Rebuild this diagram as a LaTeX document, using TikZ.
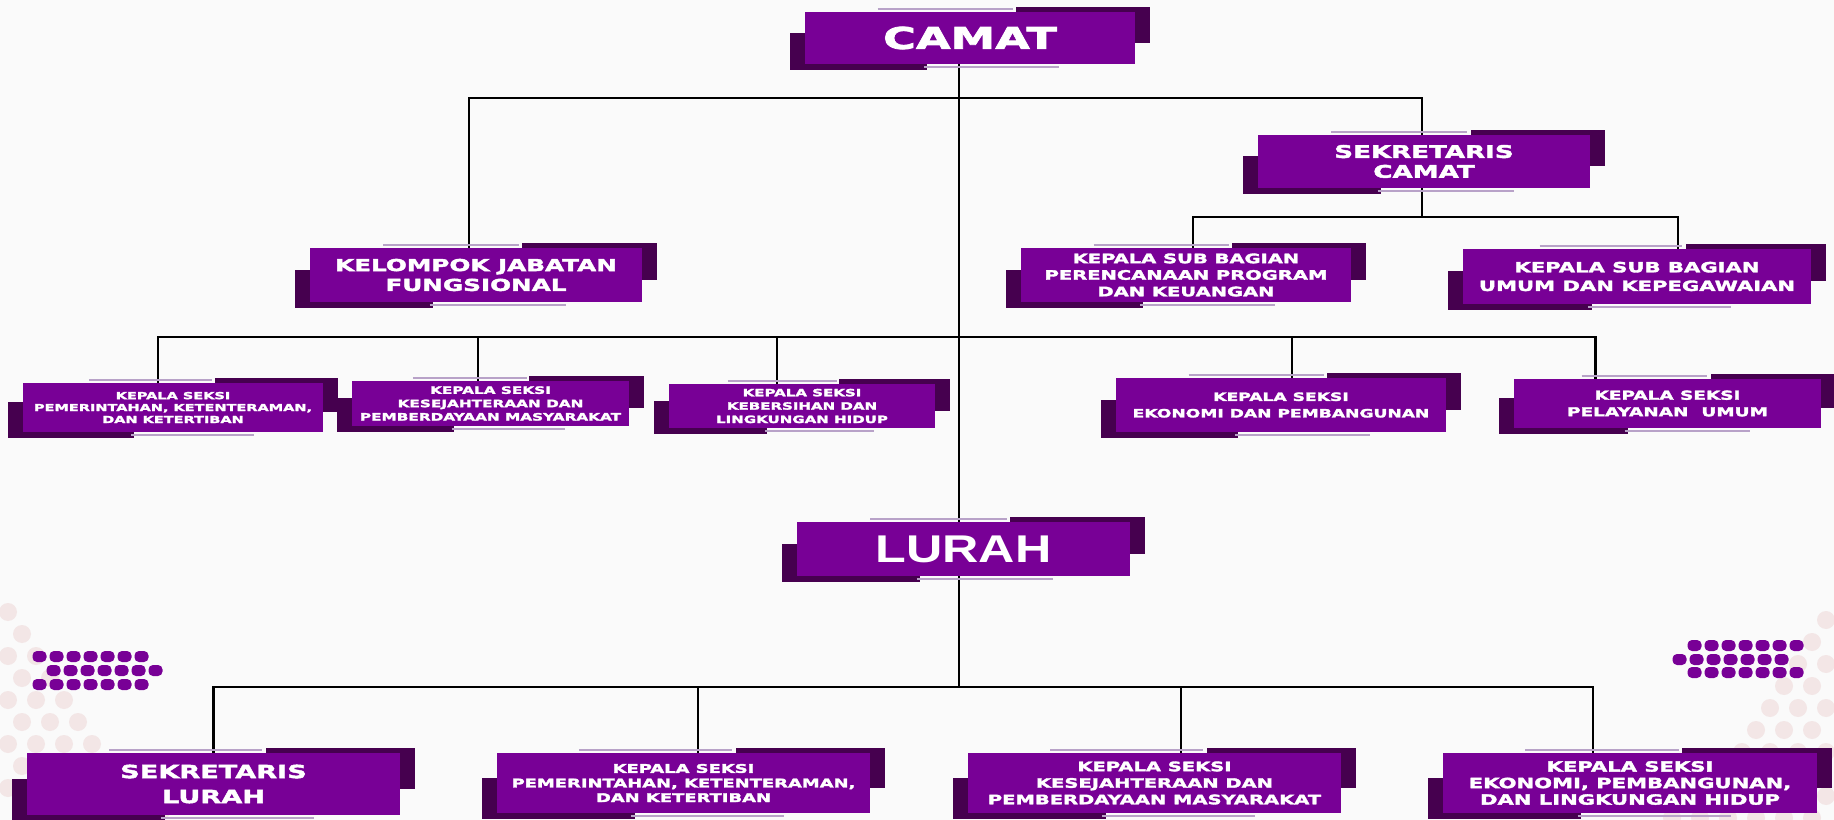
\documentclass[tikz,border=0pt]{standalone}
\usepackage{fontspec}
\newfontfamily\boxfont{DejaVu Sans}[FakeStretch=1.5, BoldFeatures={FakeBold=2.5}]
\newfontfamily\lurahfont{Liberation Sans}[FakeStretch=1.3]
\usetikzlibrary{calc,backgrounds}
\definecolor{mainp}{HTML}{780096}
\definecolor{darkp}{HTML}{46004F}
\definecolor{linep}{HTML}{B8A2C8}
\definecolor{pagebg}{HTML}{FAFAFA}
\definecolor{ghost}{HTML}{F3E6E6}
\tikzset{
  unit/.style 2 args={fill=mainp, text=white, align=center, inner sep=0pt, outer sep=0pt,
    minimum width=#1*0.2mm, minimum height=#2*0.2mm},
  txt/.style 2 args={font=\boxfont\bfseries\fontsize{#1}{#2}\selectfont},
  wire/.style={line width=1.6pt, black},
  dotbar/.style={fill=mainp, rounded corners=0.9mm},
}
\begin{document}
\begin{tikzpicture}[x=0.2mm, y=-0.2mm]
\useasboundingbox (0,0) rectangle (1834,820);
% kecamatan
\node[unit={330}{52}, txt={17}{20}] (CAMAT) at (970,38) {CAMAT};
\node[unit={332}{53}, txt={9.9}{11.3}] (SEKCAMAT) at (1424,161.5) {SEKRETARIS\\CAMAT};
\node[unit={332}{54}, txt={9.35}{11.3}] (KJF) at (476,275) {KELOMPOK JABATAN\\FUNGSIONAL};
\node[unit={330}{54}, txt={7.4}{9.4}] (PERENC) at (1186,275) {KEPALA SUB BAGIAN\\PERENCANAAN PROGRAM\\DAN KEUANGAN};
\node[unit={348}{55}, txt={8}{10.6}] (UMUM) at (1637,276.5) {KEPALA SUB BAGIAN\\UMUM DAN KEPEGAWAIAN};
\node[unit={300}{49}, txt={5.5}{6.8}] (S1) at (173,407.5) {KEPALA SEKSI\\PEMERINTAHAN, KETENTERAMAN,\\DAN KETERTIBAN};
\node[unit={277}{45}, txt={5.8}{7.6}] (S2) at (490.5,403.5) {KEPALA SEKSI\\KESEJAHTERAAN DAN\\PEMBERDAYAAN MASYARAKAT};
\node[unit={266}{44}, txt={5.7}{7.6}] (S3) at (802,406) {KEPALA SEKSI\\KEBERSIHAN DAN\\LINGKUNGAN HIDUP};
\node[unit={330}{54}, txt={6.5}{9.4}] (S4) at (1281,405) {KEPALA SEKSI\\EKONOMI DAN PEMBANGUNAN};
\node[unit={307}{49}, txt={7}{9.4}] (S5) at (1667.5,403.5) {KEPALA SEKSI\\PELAYANAN\ \ UMUM};
% kelurahan
\node[unit={333}{54}, font=\lurahfont\bfseries\fontsize{22}{24}\selectfont] (LURAH) at (963.5,549) {LURAH};
\node[unit={373}{62}, txt={10.3}{14.2}] (B1) at (213.5,784) {SEKRETARIS\\LURAH};
\node[unit={373}{60}, txt={6.8}{8.3}] (B2) at (683.5,783) {KEPALA SEKSI\\PEMERINTAHAN, KETENTERAMAN,\\DAN KETERTIBAN};
\node[unit={373}{60}, txt={7.4}{9.4}] (B3) at (1154.5,783) {KEPALA SEKSI\\KESEJAHTERAAN DAN\\PEMBERDAYAAN MASYARAKAT};
\node[unit={374}{60}, txt={8}{9.4}] (B4) at (1630,783) {KEPALA SEKSI\\EKONOMI, PEMBANGUNAN,\\DAN LINGKUNGAN HIDUP};

\coordinate (busA) at (959,98);
\coordinate (busB) at (1422,217);
\coordinate (busC) at (959,337);
\coordinate (busD) at (959,687);

\begin{pgfonlayer}{background}
\fill[pagebg] (0,0) rectangle (1834,820);
% faint circles in the corners
\foreach \j in {0,...,9} \foreach \i in {0,...,5} {
  \pgfmathsetmacro\cx{8+28*\i+14*mod(\j,2)}
  \pgfmathsetmacro\cy{612+22*\j}
  \pgfmathparse{\cx<30+15*\j ? 1 : 0}
  \ifnum\pgfmathresult=1
    \fill[ghost] (\cx,\cy) circle (1.8mm);
    \fill[ghost] (1834-\cx,\cy+8) circle (1.8mm);
  \fi
}
% dot bars
\foreach \k in {0,...,6} {
  \fill[dotbar] (32.5+17*\k,651) rectangle +(14,11);
  \fill[dotbar] (46.5+17*\k,665) rectangle +(14,11);
  \fill[dotbar] (32.5+17*\k,679) rectangle +(14,11);
  \fill[dotbar] (1687.5+17*\k,640) rectangle +(14,11);
  \fill[dotbar] (1672.5+17*\k,654) rectangle +(14,11);
  \fill[dotbar] (1687.5+17*\k,667) rectangle +(14,11);
}
% lines
\draw[wire] (CAMAT.south -| busA) -- (LURAH.north -| busA);
\draw[wire] (LURAH.south -| busA) -- (busD);
\draw[wire] ($(KJF.north)+(-7,0)$) |- (busA) -| (SEKCAMAT.north -| busB);
\draw[wire] (SEKCAMAT.south -| busB) -- (busB);
\draw[wire] ($(PERENC.north)+(7,0)$) |- (busB) -| ($(UMUM.north)+(41,0)$);
\foreach \n/\dx in {S1/-15,S2/-12.5,S3/-25,S4/11,S5/-72}
  \draw[wire] ($(\n.north)+(\dx,0)$) |- (busC);
\foreach \n/\dx in {B1/0,B2/14.5,B3/26.5,B4/-37}
  \draw[wire] ($(\n.north)+(\dx,0)$) |- (busD);
% box trims
\foreach \n in {CAMAT,SEKCAMAT,KJF,PERENC,UMUM,S1,S2,S3,S4,S5,LURAH,B1,B2,B3,B4} {
  \fill[darkp] ($(\n.south west)+(-15,6)$) rectangle ($(\n.west)!0.37!(\n.east)+(0,-5)$);
  \fill[darkp] ($(\n.north east)+(15,-5)$) rectangle ($(\n.east)!0.36!(\n.west)+(0,5)$);
  \draw[linep, line width=1.1pt] ($(\n.north west)!0.22!(\n.north east)+(0,-3)$) -- ($(\n.north west)!0.63!(\n.north east)+(0,-3)$);
  \draw[linep, line width=1.1pt] ($(\n.south west)!0.36!(\n.south east)+(0,3)$) -- ($(\n.south west)!0.77!(\n.south east)+(0,3)$);
}
\end{pgfonlayer}
\end{tikzpicture}
\end{document}
